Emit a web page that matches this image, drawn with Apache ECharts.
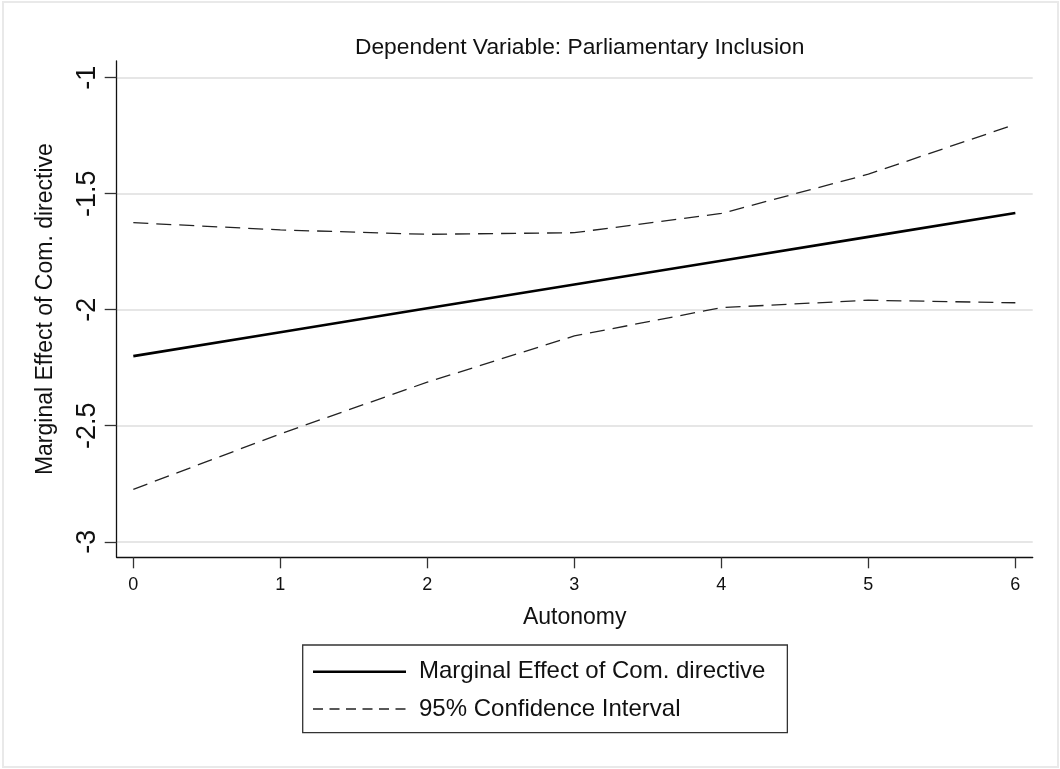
<!DOCTYPE html>
<html>
<head>
<meta charset="utf-8">
<title>Dependent Variable: Parliamentary Inclusion</title>
<script src="https://cdn.jsdelivr.net/npm/echarts@6/dist/echarts.min.js"></script>
<style>
  html, body { margin: 0; padding: 0; background: #ffffff; }
  #chart { width: 1060px; height: 769px; }
</style>
</head>
<body>
<div id="chart"></div>
<script>
// Autonomy levels on the x axis
const autonomy = [0, 1, 2, 3, 4, 5, 6];
// Marginal effect of the Commission directive at each autonomy level
const marginalEffect = [-2.200, -2.097, -1.994, -1.891, -1.789, -1.686, -1.583];
// 95% confidence bounds
const upperCI = [-1.625, -1.656, -1.675, -1.668, -1.585, -1.416, -1.201];
const lowerCI = [-2.774, -2.535, -2.312, -2.113, -1.991, -1.959, -1.970];
// Tick values
const xTicks = [0, 1, 2, 3, 4, 5, 6];
const yTicks = [-3, -2.5, -2, -1.5, -1];

const FONT = '"Liberation Sans", Arial, Helvetica, sans-serif';
const pairs = (ys) => autonomy.map((x, i) => [x, ys[i]]);

const chart = echarts.init(document.getElementById('chart'), null, { renderer: 'canvas' });

const meName = 'Marginal Effect of Com. directive';
const ciName = '95% Confidence Interval';

chart.setOption({
  animation: false,
  backgroundColor: '#ffffff',
  graphic: [{
    type: 'rect',
    shape: { x: 3, y: 2, width: 1055, height: 765 },
    style: { fill: 'none', stroke: '#e9e9e9', lineWidth: 2 },
    silent: true
  }],
  title: {
    text: 'Dependent Variable: Parliamentary Inclusion',
    left: 574.7,
    top: 31,
    textAlign: 'center',
    textStyle: { fontFamily: FONT, fontSize: 22.8, fontWeight: 'normal', color: '#111' }
  },
  grid: { left: 116.7, right: 27.3, top: 61, bottom: 211.7, containLabel: false },
  xAxis: {
    type: 'value',
    min: -0.113,
    max: 6.118,
    name: 'Autonomy',
    nameLocation: 'middle',
    nameGap: 49,
    nameTextStyle: { fontFamily: FONT, fontSize: 23, color: '#111' },
    axisLine: { show: true, onZero: false, lineStyle: { color: '#111', width: 1.3 } },
    axisTick: { show: true, length: 11, customValues: xTicks, lineStyle: { color: '#333', width: 1.3 } },
    axisLabel: { customValues: xTicks, margin: 19, fontFamily: FONT, fontSize: 18, color: '#111' },
    splitLine: { show: false }
  },
  yAxis: {
    type: 'value',
    min: -3.067,
    max: -0.928,
    name: 'Marginal Effect of Com. directive',
    nameLocation: 'middle',
    nameGap: 60,
    nameTextStyle: { fontFamily: FONT, fontSize: 23, color: '#111' },
    axisLine: { show: true, onZero: false, lineStyle: { color: '#111', width: 1.3 } },
    axisTick: { show: true, length: 12, customValues: yTicks, lineStyle: { color: '#333', width: 1.3 } },
    axisLabel: {
      customValues: yTicks,
      rotate: 90,
      align: 'center',
      verticalAlign: 'bottom',
      margin: 16,
      fontFamily: FONT, fontSize: 27, color: '#111',
      formatter: (v) => String(v)
    },
    splitLine: { show: true, lineStyle: { color: '#e6e6e6', width: 2 } }
  },
  legend: {
    orient: 'vertical',
    left: 302.7,
    top: 645,
    padding: [14.7, 22, 11.7, 9],
    itemWidth: 93,
    itemHeight: 24,
    itemGap: 13.3,
    borderColor: '#333',
    borderWidth: 1.3,
    backgroundColor: '#ffffff',
    selectedMode: false,
    textStyle: { fontFamily: FONT, fontSize: 24, color: '#111', padding: [0, 0, 0, 8] },
    data: [
      { name: meName, itemStyle: { opacity: 0 }, lineStyle: { width: 2.6, color: '#000', type: 'solid' } },
      { name: ciName, itemStyle: { opacity: 0 }, lineStyle: { width: 1.3, color: '#222', type: [10, 6.5] } }
    ]
  },
  series: [
    {
      name: meName,
      type: 'line',
      data: pairs(marginalEffect),
      symbol: 'none',
      lineStyle: { color: '#000', width: 2.6, type: 'solid' },
      itemStyle: { color: '#000' },
      z: 3
    },
    {
      name: ciName,
      type: 'line',
      data: pairs(upperCI),
      symbol: 'none',
      lineStyle: { color: '#222', width: 1.3, type: [15, 8] },
      itemStyle: { color: '#222' },
      z: 2
    },
    {
      name: ciName,
      type: 'line',
      data: pairs(lowerCI),
      symbol: 'none',
      lineStyle: { color: '#222', width: 1.3, type: [15, 8] },
      itemStyle: { color: '#222' },
      z: 2
    }
  ]
});
</script>
</body>
</html>
